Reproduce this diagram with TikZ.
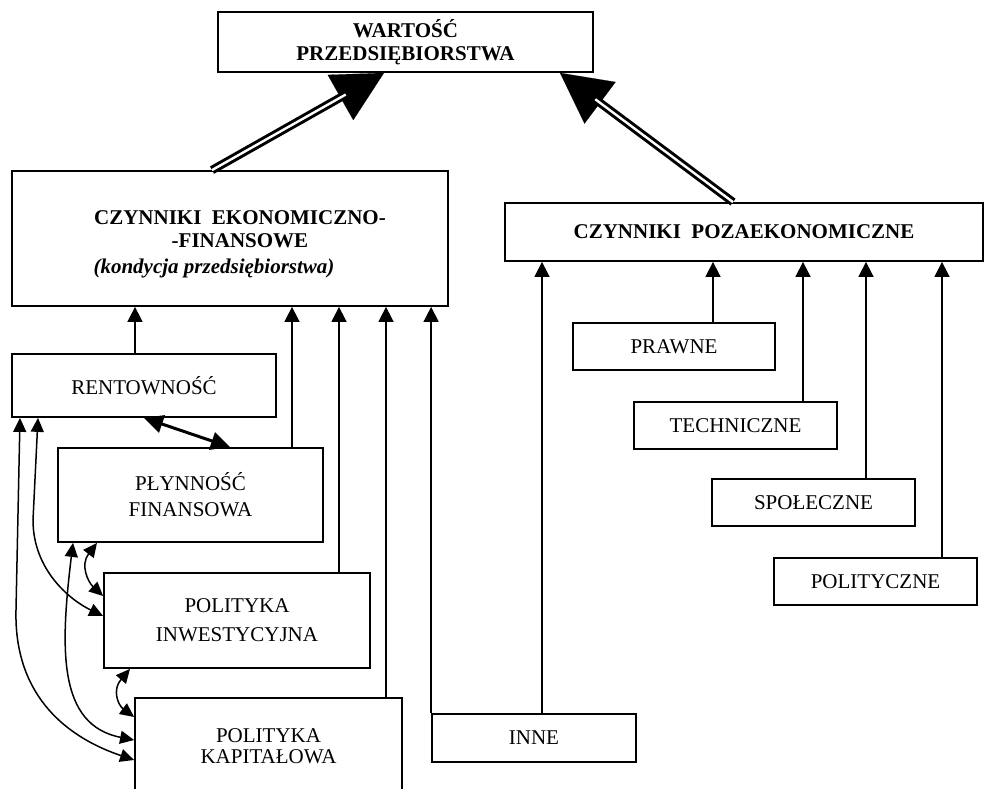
\documentclass[tikz,border=0pt]{standalone}
\usepackage{fontspec}
\setmainfont{Liberation Serif}
\usetikzlibrary{arrows.meta}

\begin{document}
\begin{tikzpicture}[x=1pt, y=-1pt,
    every node/.style={font=\fontsize{21}{23}\selectfont, inner sep=2pt},
    box/.style={draw, line width=1.8pt, fill=white, align=center},
    bf/.style={font=\fontsize{21}{23}\selectfont\bfseries},
    up/.style={line width=1.6pt, -{Triangle[length=15pt,width=15pt]}},
    both/.style={line width=1.5pt, {Triangle[length=14pt,width=13pt]}-{Triangle[length=14pt,width=13pt]}},
    fat/.style={line width=3pt, {Triangle[length=19pt,width=18pt]}-{Triangle[length=19pt,width=18pt]}},
    bighead/.style={line width=0.1pt, -{Triangle[length=50pt,width=52pt]}},
    dbl/.style={double, double distance=2.4pt, line width=3pt, shorten >=44pt}]
  \useasboundingbox (0,0) rectangle (985,789);

  % top
  \node[box, bf, minimum width=375pt, minimum height=60pt] (wart) at (405.5,42)
    {WARTOŚĆ\\PRZEDSIĘBIORSTWA};

  % ekonomiczno-finansowe
  \node[box, minimum width=436pt, minimum height=135pt] (ekon) at (230,238.5) {};
  \node[bf, align=center] (ekonlab) at (240,229) {CZYNNIKI\ \ EKONOMICZNO-\\-FINANSOWE};
  \node[font=\fontsize{21}{23}\selectfont\bfseries\itshape] (ekonsub) at (214,268)
    {(kondycja przedsiębiorstwa)};
  \node[box, minimum width=264pt, minimum height=63pt] (rent) at (144,385.5) {RENTOWNOŚĆ};
  \node[box, minimum width=265pt, minimum height=94pt] (plyn) at (190.5,495)
    {PŁYNNOŚĆ\\[3pt]FINANSOWA};
  \node[box, minimum width=266pt, minimum height=95pt] (inw) at (237,620.5)
    {POLITYKA\\[6pt]INWESTYCYJNA};
  \node[box, minimum width=267pt, minimum height=104pt, text depth=8pt] (kap) at (268.5,750)
    {POLITYKA\\[-2pt]KAPITAŁOWA};

  % pozaekonomiczne
  \node[box, bf, minimum width=478pt, minimum height=58pt] (poza) at (744,232)
    {CZYNNIKI\ \ POZAEKONOMICZNE};
  \node[box, minimum width=202pt, minimum height=47pt] (prawne) at (674,346.5) {PRAWNE};
  \node[box, minimum width=203pt, minimum height=47pt] (tech) at (735.5,425.5) {TECHNICZNE};
  \node[box, minimum width=203pt, minimum height=47pt] (spol) at (813.5,502.5) {SPOŁECZNE};
  \node[box, minimum width=203pt, minimum height=47pt] (polit) at (875.5,581.5) {POLITYCZNE};
  \node[box, minimum width=204pt, minimum height=48pt] (inne) at (534,738) {INNE};

  % to the top
  \draw[bighead] (212,0 |- ekon.north) -- (384,0 |- wart.south);
  \draw[dbl] (212,0 |- ekon.north) -- (384,0 |- wart.south);
  \draw[bighead] (733,0 |- poza.north) -- (560,0 |- wart.south);
  \draw[dbl] (733,0 |- poza.north) -- (560,0 |- wart.south);

  % vertical arrows
  \foreach \n/\x in {rent/135, plyn/292, inw/339, kap/386}
    \draw[up] (\x,0 |- \n.north) -- (\x,0 |- ekon.south);
  \draw[up] (inne.north west) -- (inne.north west |- ekon.south);
  \foreach \n/\x in {inne/542, prawne/713, tech/803, spol/866, polit/942}
    \draw[up] (\x,0 |- \n.north) -- (\x,0 |- poza.south);

  % links between the factors
  \draw[fat] (rent.south) -- (230,0 |- plyn.north);
  \draw[both] (20,0 |- rent.south) -- (16,610) .. controls (14,690) and (60,735) .. (kap.west |- 0,760);
  \draw[both] (38,0 |- rent.south) -- (33,520) .. controls (33,570) and (70,600) .. (inw.west |- 0,616);
  \draw[both] (73,0 |- plyn.south) .. controls (60,650) and (58,725) .. (kap.west |- 0,740);
  \draw[both] (97,0 |- plyn.south) .. controls (80,565) and (88,582) .. (inw.west |- 0,596);
  \draw[both] (130,0 |- inw.south) .. controls (112,690) and (118,705) .. (kap.west |- 0,717);
\end{tikzpicture}
\end{document}
